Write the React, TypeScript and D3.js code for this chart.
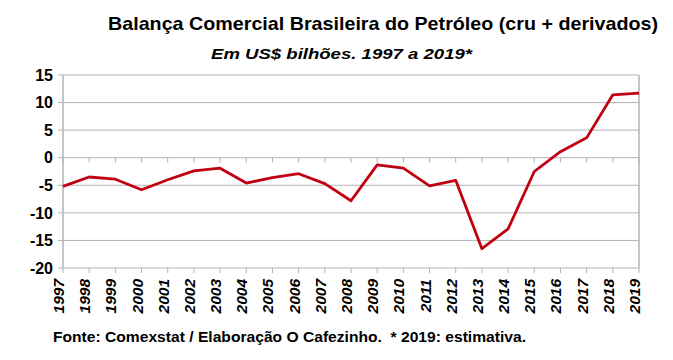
import React from 'react';
import { scaleLinear, line } from 'd3';

const years = ['1997','1998','1999','2000','2001','2002','2003','2004','2005','2006','2007','2008','2009','2010','2011','2012','2013','2014','2015','2016','2017','2018','2019'];
const saldo = [-5.2,-3.5,-3.9,-5.8,-4.0,-2.4,-1.9,-4.6,-3.6,-2.9,-4.7,-7.8,-1.3,-1.9,-5.1,-4.1,-16.5,-12.9,-2.5,1.1,3.6,11.4,11.7];
const yTicks = [15,10,5,0,-5,-10,-15,-20];

const App = () => {
  const width = 673;
  const height = 360;
  const margin = { top: 75, right: 34, bottom: 92, left: 63 };
  const innerWidth = width - margin.left - margin.right;
  const innerHeight = height - margin.top - margin.bottom;

  const xScale = scaleLinear().domain([0, years.length - 1]).range([0, innerWidth]);
  const yScale = scaleLinear().domain([-20, 15]).range([innerHeight, 0]);

  const path = line<number>()
    .x((d, i) => xScale(i))
    .y((d) => yScale(d))(saldo);

  const font = 'Liberation Sans, Arial, sans-serif';
  const grid = '#b3b3b3';

  return (
    <svg width={width} height={height} style={{ position: 'absolute', left: 0, top: 0, background: '#fff' }} fontFamily={font}>
      <text x={108} y={30} fontSize={18.5} fontWeight="bold" fill="#000" textLength={550} lengthAdjust="spacingAndGlyphs">Balança Comercial Brasileira do Petróleo (cru + derivados)</text>
      <text x={211} y={59} fontSize={15} fontWeight="bold" fontStyle="italic" fill="#000" textLength={261} lengthAdjust="spacingAndGlyphs">Em US$ bilhões. 1997 a 2019*</text>

      <g transform={`translate(${margin.left},${margin.top})`}>
        {yTicks.map((t) => (
          <g key={t} transform={`translate(0,${yScale(t)})`}>
            <line x1={-5} x2={innerWidth} stroke={grid} strokeWidth={1} />
            <text x={-10} dy="0.36em" textAnchor="end" fontSize={16} fontWeight="bold" fill="#000">{t}</text>
          </g>
        ))}
        <line x1={0} x2={0} y1={0} y2={innerHeight} stroke={grid} strokeWidth={1.5} />
        <line x1={innerWidth} x2={innerWidth} y1={0} y2={innerHeight} stroke={grid} strokeWidth={1.5} />

        {years.map((y, i) => (
          <g key={y} transform={`translate(${xScale(i)},0)`}>
            <line y1={yScale(0)} y2={yScale(0) + 5} stroke={grid} strokeWidth={1} />
            <line y1={innerHeight} y2={innerHeight + 5} stroke={grid} strokeWidth={1} />
            <text
              transform={`translate(1,${innerHeight + 11}) rotate(-90)`}
              textAnchor="end"
              fontSize={15.5}
              fontWeight="bold"
              fontStyle="italic"
              fill="#000"
            >
              {y}
            </text>
          </g>
        ))}

        <path d={path ?? ''} fill="none" stroke="#c00010" strokeWidth={2.8} strokeLinejoin="round" />
      </g>

      <text x={53} y={342} fontSize={15.5} fontWeight="bold" fill="#000" style={{ whiteSpace: 'pre' }} textLength={473} lengthAdjust="spacingAndGlyphs">Fonte: Comexstat / Elaboração O Cafezinho.  * 2019: estimativa.</text>
    </svg>
  );
};

export default App;
